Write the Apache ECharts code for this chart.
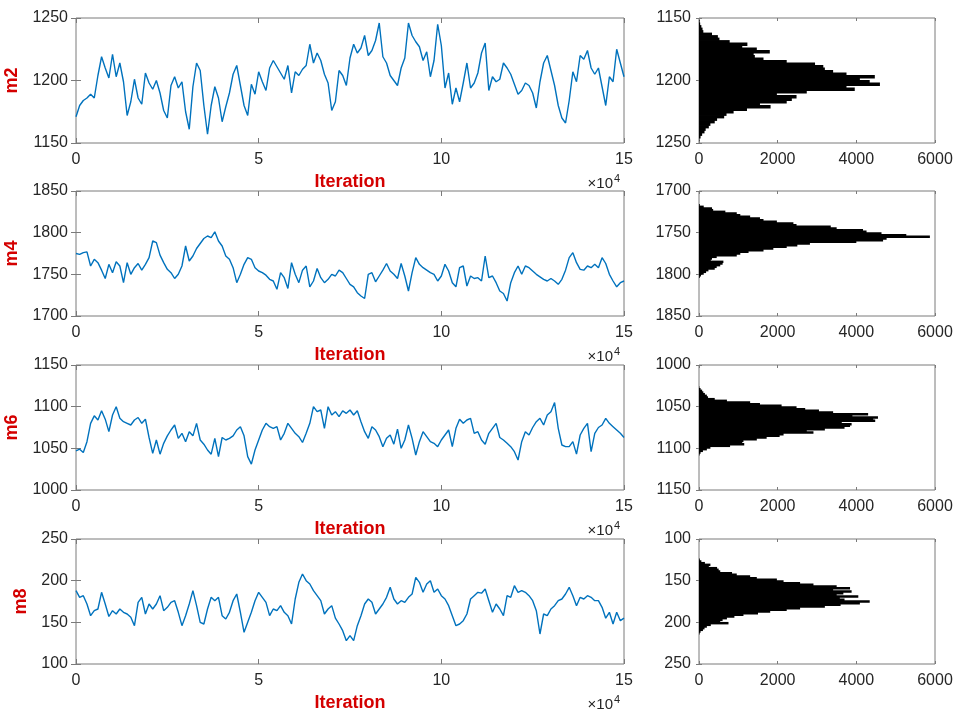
<!DOCTYPE html>
<html>
<head>
<meta charset="utf-8">
<title>MCMC traces</title>
<script src="https://cdn.jsdelivr.net/npm/echarts@6/dist/echarts.min.js"></script>
<style>
  html, body { margin: 0; padding: 0; background: #fff; }
  #chart { width: 954px; height: 713px; }
</style>
</head>
<body>
<div id="chart"></div>
<script>
// ---- data ----
const paramNames = ["m2", "m4", "m6", "m8"];
const yRanges = [[1150, 1250], [1700, 1850], [1000, 1150], [100, 250]];
const iterStep = 1000;          // one trace value every 1000 iterations (0 .. 150000)

const m2Trace = [
  1171, 1180, 1184, 1186, 1189, 1186, 1204, 1219, 1210, 1202, 1221, 1203, 1214, 1199, 1172, 1183, 1201, 1186, 1181, 1206,
  1198, 1193, 1200, 1190, 1176, 1170, 1196, 1203, 1194, 1199, 1175, 1161, 1195, 1214, 1208, 1180, 1157, 1180, 1195, 1186,
  1167, 1179, 1190, 1205, 1212, 1196, 1180, 1172, 1197, 1189, 1207, 1199, 1192, 1210, 1216, 1211, 1206, 1201, 1212, 1190,
  1207, 1204, 1209, 1212, 1229, 1214, 1222, 1216, 1205, 1198, 1176, 1183, 1208, 1204, 1196, 1218, 1229, 1222, 1226, 1236,
  1220, 1224, 1232, 1246, 1219, 1214, 1204, 1200, 1196, 1210, 1218, 1246, 1236, 1231, 1227, 1216, 1223, 1203, 1216, 1245,
  1228, 1194, 1206, 1181, 1194, 1183, 1198, 1214, 1194, 1198, 1206, 1222, 1230, 1192, 1203, 1199, 1201, 1214, 1210, 1205,
  1197, 1189, 1192, 1198, 1196, 1190, 1178, 1199, 1214, 1220, 1208, 1196, 1180, 1170, 1166, 1184, 1207, 1199, 1220, 1217,
  1224, 1210, 1205, 1210, 1195, 1180, 1203, 1199, 1225, 1214, 1203
];
const m4Trace = [
  1775, 1774, 1776, 1777, 1760, 1768, 1764, 1755, 1745, 1762, 1752, 1765, 1760, 1740, 1764, 1750, 1758, 1763, 1755, 1762,
  1770, 1790, 1788, 1773, 1764, 1756, 1752, 1745, 1750, 1760, 1784, 1766, 1772, 1781, 1787, 1793, 1796, 1794, 1801, 1790,
  1784, 1772, 1768, 1758, 1740, 1750, 1762, 1770, 1768, 1758, 1754, 1752, 1749, 1744, 1742, 1732, 1752, 1746, 1733, 1764,
  1750, 1740, 1755, 1760, 1735, 1742, 1757, 1746, 1740, 1744, 1750, 1748, 1755, 1752, 1745, 1738, 1735, 1728, 1724, 1721,
  1750, 1752, 1741, 1748, 1755, 1763, 1754, 1750, 1745, 1763, 1748, 1730, 1752, 1770, 1762, 1758, 1755, 1752, 1750, 1742,
  1748, 1762, 1754, 1740, 1735, 1758, 1760, 1736, 1748, 1745, 1746, 1742, 1772, 1746, 1748, 1740, 1730, 1727, 1718, 1740,
  1752, 1760, 1750, 1760, 1758, 1754, 1750, 1747, 1744, 1742, 1745, 1742, 1738, 1744, 1755, 1770, 1776, 1764, 1756, 1755,
  1760, 1758, 1762, 1758, 1770, 1763, 1750, 1742, 1735, 1740, 1742
];
const m6Trace = [
  1047, 1049, 1045, 1058, 1080, 1089, 1084, 1095, 1085, 1070, 1090, 1100, 1086, 1082, 1080, 1078, 1084, 1087, 1080, 1085,
  1063, 1044, 1060, 1043, 1056, 1065, 1072, 1078, 1062, 1068, 1058, 1070, 1065, 1080, 1060, 1055, 1048, 1043, 1062, 1040,
  1063, 1060, 1062, 1065, 1072, 1076, 1065, 1040, 1031, 1048, 1060, 1072, 1080, 1076, 1074, 1076, 1060, 1068, 1080, 1074,
  1068, 1064, 1057, 1068, 1080, 1100, 1094, 1096, 1074, 1100, 1090, 1094, 1088, 1095, 1092, 1096, 1090, 1095, 1082, 1070,
  1062, 1076, 1072, 1064, 1052, 1062, 1066, 1055, 1073, 1050, 1060, 1078, 1062, 1042, 1058, 1070, 1064, 1058, 1056, 1052,
  1060, 1066, 1072, 1052, 1074, 1085, 1080, 1084, 1086, 1068, 1070, 1060, 1055, 1068, 1074, 1080, 1063, 1060, 1056, 1052,
  1046, 1036, 1058, 1070, 1066, 1075, 1082, 1086, 1078, 1090, 1094, 1105, 1074, 1054, 1052, 1052, 1058, 1043, 1066, 1074,
  1080, 1046, 1068, 1075, 1078, 1086, 1080, 1076, 1072, 1068, 1063
];
const m8Trace = [
  188, 180, 182, 172, 158, 164, 166, 186, 172, 157, 164, 160, 166, 162, 160, 156, 146, 174, 180, 160,
  172, 166, 172, 182, 164, 168, 174, 176, 162, 146, 158, 172, 188, 170, 150, 148, 166, 180, 176, 180,
  158, 154, 162, 176, 184, 162, 138, 150, 162, 176, 186, 180, 174, 158, 166, 164, 170, 162, 158, 148,
  178, 198, 208, 200, 196, 188, 182, 176, 160, 166, 170, 155, 148, 140, 128, 134, 128, 146, 158, 172,
  178, 174, 160, 166, 172, 180, 192, 178, 172, 176, 174, 180, 184, 204, 198, 186, 196, 200, 186, 190,
  182, 178, 170, 158, 146, 148, 152, 160, 178, 182, 186, 185, 190, 176, 162, 172, 166, 158, 182, 180,
  194, 186, 188, 186, 182, 176, 164, 136, 160, 158, 166, 170, 176, 178, 184, 192, 182, 170, 180, 178,
  182, 180, 176, 176, 168, 155, 162, 148, 162, 152, 155
];

// histogram: counts per bin of width histBinWidth, first bin starting at the given value
const histBinWidth = 2;
const histStarts = [1152, 1716, 1026, 124];
const m2HistCounts = [
  15, 30, 60, 90, 110, 330, 480, 520, 780, 1230, 1100, 1470, 1800, 1390, 1420, 1640, 2230, 2950, 3160, 3200,
  3410, 3750, 4470, 4090, 4340, 4600, 3750, 3960, 2740, 1980, 2480, 2360, 2230, 1550, 1820, 1220, 880, 700, 640, 460,
  400, 290, 250, 170, 140, 80, 40, 10
];
const m4HistCounts = [
  20, 120, 330, 360, 670, 960, 1050, 1300, 1550, 1640, 1980, 2400, 2480, 3350, 3500, 4170, 4260, 4640, 5270, 5870,
  4770, 4680, 4000, 2820, 2500, 2230, 1890, 1640, 1260, 1050, 960, 450, 330, 300, 620, 600, 540, 450, 400, 240,
  180, 120, 50, 20
];
const m6HistCounts = [
  10, 40, 80, 110, 150, 200, 230, 400, 710, 1300, 1550, 2100, 2480, 2700, 3050, 3410, 4300, 3900, 4550, 4430,
  4480, 3630, 3880, 3840, 3700, 3200, 2740, 2910, 2150, 2050, 1720, 1470, 1130, 1100, 1150, 790, 290, 200, 100, 40,
  15
];
const m8HistCounts = [
  20, 60, 150, 290, 250, 460, 500, 540, 840, 960, 1300, 1470, 1980, 2150, 2570, 2910, 3500, 3840, 3410, 3880,
  3670, 3500, 4050, 3580, 3700, 4340, 4090, 3600, 3200, 2570, 2230, 1810, 1500, 1130, 900, 710, 600, 540, 750, 300,
  200, 140, 100, 40, 15
];

const traces = [m2Trace, m4Trace, m6Trace, m8Trace];
const histCounts = [m2HistCounts, m4HistCounts, m6HistCounts, m8HistCounts];

// ---- layout / style ----
const rowTops = [18, 191, 365, 539];
const rowHeight = 125;
const traceLeft = 76, traceWidth = 548;
const histLeft = 699, histWidth = 236;
const frameColor = "#7a7a7a";
const textColor = "#262626";
const nameColor = "#d40000";
const lineColor = "#0072bd";
const fontFamily = "'Liberation Sans', Arial, sans-serif";

const chart = echarts.init(document.getElementById("chart"), null, { renderer: "canvas" });

const grid = [], xAxis = [], yAxis = [], series = [], graphic = [];

function tickAxis(extra) {
    return Object.assign({
        type: "value",
        axisLine: { show: false },
        splitLine: { show: false },
        axisTick: { show: true, inside: true, length: 5, lineStyle: { color: frameColor, width: 1 } },
        axisLabel: { show: true, color: textColor, fontSize: 16, fontFamily: fontFamily, margin: 9 }
    }, extra);
}

paramNames.forEach((name, i) => {
    const top = rowTops[i];
    const [yMin, yMax] = yRanges[i];

    // trace grid and hist grid (fixed boxes, no auto-fitting of labels)
    grid.push({ left: traceLeft, top: top, width: traceWidth, height: rowHeight, show: true,
        containLabel: false, outerBoundsMode: "none",
        borderColor: frameColor, borderWidth: 1, backgroundColor: "transparent" });
    grid.push({ left: histLeft, top: top, width: histWidth, height: rowHeight, show: true,
        containLabel: false, outerBoundsMode: "none",
        borderColor: frameColor, borderWidth: 1, backgroundColor: "transparent" });

    const gT = 2 * i, gH = 2 * i + 1;

    // x axes: trace bottom, trace top, hist bottom, hist top
    xAxis.push(tickAxis({
        gridIndex: gT, min: 0, max: 150000, interval: 50000, position: "bottom",
        axisLabel: { color: textColor, fontSize: 16, fontFamily: fontFamily, margin: 9,
            formatter: v => String(v / 10000) },
        name: "Iteration", nameLocation: "middle", nameGap: 30,
        nameTextStyle: { color: nameColor, fontWeight: "bold", fontSize: 18, fontFamily: fontFamily }
    }));
    xAxis.push(tickAxis({ gridIndex: gT, min: 0, max: 150000, interval: 50000, position: "top",
        axisLabel: { show: false } }));
    xAxis.push(tickAxis({
        gridIndex: gH, min: 0, max: 6000, interval: 2000, position: "bottom",
        axisTick: { show: true, inside: true, length: 3, lineStyle: { color: frameColor } },
        axisLabel: { color: textColor, fontSize: 16, fontFamily: fontFamily, margin: 9,
            formatter: v => String(v) }
    }));
    xAxis.push(tickAxis({ gridIndex: gH, min: 0, max: 6000, interval: 2000, position: "top",
        axisTick: { show: true, inside: true, length: 3, lineStyle: { color: frameColor } },
        axisLabel: { show: false } }));

    // y axes: trace left, trace right, hist left, hist right
    yAxis.push(tickAxis({
        gridIndex: gT, min: yMin, max: yMax, interval: 50, position: "left",
        axisLabel: { color: textColor, fontSize: 16, fontFamily: fontFamily, margin: 8,
            formatter: v => String(v) },
        name: name, nameLocation: "middle", nameGap: 44, nameRotate: 90,
        nameTextStyle: { color: nameColor, fontWeight: "bold", fontSize: 18, fontFamily: fontFamily }
    }));
    yAxis.push(tickAxis({ gridIndex: gT, min: yMin, max: yMax, interval: 50, position: "right",
        axisLabel: { show: false } }));
    yAxis.push(tickAxis({
        gridIndex: gH, min: yMin, max: yMax, interval: 50, position: "left", inverse: true,
        axisTick: { show: true, inside: true, length: 3, lineStyle: { color: frameColor } },
        axisLabel: { color: textColor, fontSize: 16, fontFamily: fontFamily, margin: 8,
            formatter: v => String(v) }
    }));
    yAxis.push(tickAxis({ gridIndex: gH, min: yMin, max: yMax, interval: 50, position: "right", inverse: true,
        axisTick: { show: true, inside: true, length: 3, lineStyle: { color: frameColor } },
        axisLabel: { show: false } }));

    // trace line
    series.push({
        type: "line",
        xAxisIndex: 4 * i, yAxisIndex: 4 * i,
        data: traces[i].map((v, k) => [k * iterStep, v]),
        symbol: "none",
        lineStyle: { color: lineColor, width: 1.4 },
        clip: true,
        silent: true
    });

    // histogram as horizontal bars, slightly overlapped so no hairline gaps show
    const start = histStarts[i];
    series.push({
        type: "custom",
        xAxisIndex: 4 * i + 2, yAxisIndex: 4 * i + 2,
        data: histCounts[i].map((c, k) => [c, start + k * histBinWidth, start + (k + 1) * histBinWidth]),
        encode: { x: 0, y: [1, 2] },
        silent: true,
        renderItem: function (params, api) {
            const p0 = api.coord([0, api.value(1)]);
            const p1 = api.coord([api.value(0), api.value(2)]);
            const y0 = Math.min(p0[1], p1[1]);
            return {
                type: "rect",
                shape: { x: p0[0], y: y0 - 0.4, width: p1[0] - p0[0], height: Math.abs(p1[1] - p0[1]) + 0.8 },
                style: { fill: "#000" }
            };
        }
    });

    // x10^4 exponent under each trace
    const bottom = top + rowHeight;
    graphic.push({
        type: "text", right: 954 - 613, top: bottom + 33,
        style: { text: "\u00d710", fill: textColor, font: "15px " + fontFamily }
    });
    graphic.push({
        type: "text", left: 614, top: bottom + 30,
        style: { text: "4", fill: textColor, font: "11px " + fontFamily }
    });
});

chart.setOption({
    animation: false,
    backgroundColor: "#fff",
    grid: grid,
    xAxis: xAxis,
    yAxis: yAxis,
    series: series,
    graphic: graphic
});

window.addEventListener("resize", function () { chart.resize(); });
</script>
</body>
</html>
